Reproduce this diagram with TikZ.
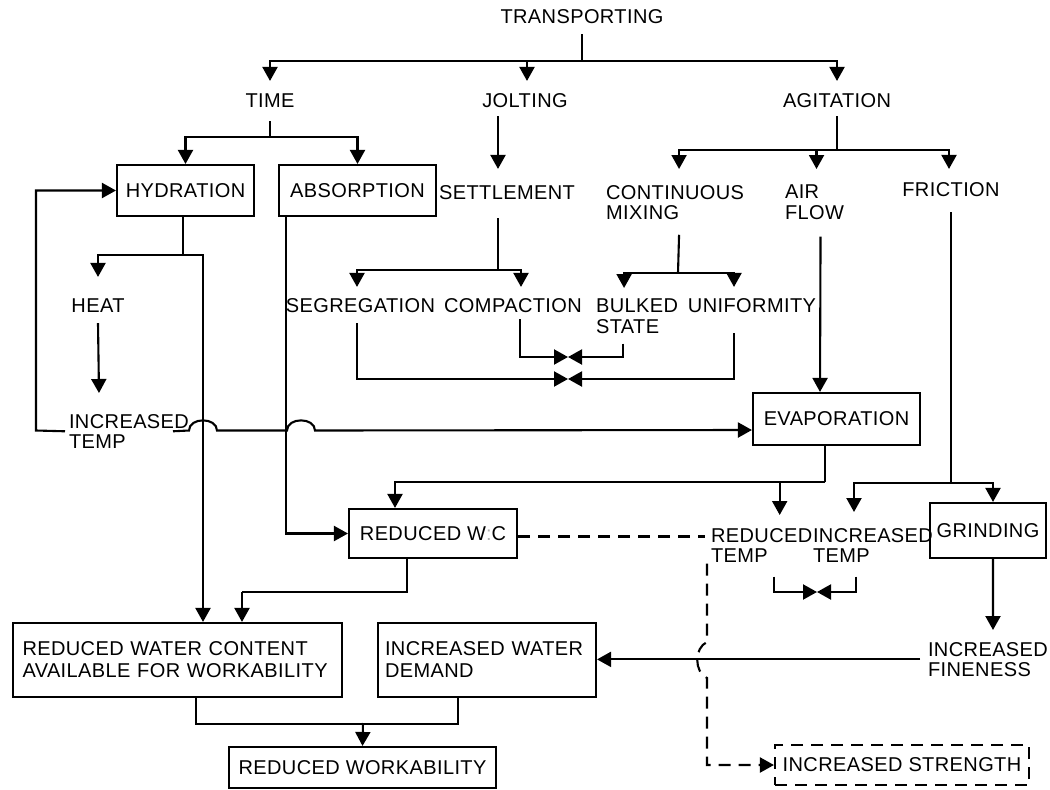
\documentclass[tikz,border=0pt]{standalone}
\usepackage{fontspec}
\setmainfont[LetterSpace=2]{Liberation Sans}
\usetikzlibrary{arrows.meta}
\begin{document}
\begin{tikzpicture}[x=1pt,y=-1pt,
  line width=2.1pt,
  lbl/.style={font=\fontsize{20}{20.5}\selectfont, inner sep=0pt, text height=14pt, text depth=0pt},
  mlbl/.style={font=\fontsize{20}{20.5}\selectfont, inner sep=0pt, align=left, anchor=north west},
  box/.style={draw, font=\fontsize{20}{22}\selectfont, inner sep=0pt, line width=2.1pt},
  arr/.style={-{Triangle[length=14pt 0,width=15pt 0]}},
  dsh/.style={dash pattern=on 12pt off 8pt},
]
\fill[white] (0,0) rectangle (1050,790);
\useasboundingbox (0,0) rectangle (1050,790);

% ---- labels
\node[lbl] (trans) at (582,16) {TRANSPORTING};
\node[lbl] (time) at (270,100) {TIME};
\node[lbl] (jolt) at (525,100) {JOLTING};
\node[lbl] (agit) at (837,100) {AGITATION};
\node[lbl] (settle) at (507,192) {SETTLEMENT};
\node[mlbl] (contmix) at (605,184) {CONTINUOUS\\MIXING};
\node[mlbl] (air) at (784,184) {AIR\\FLOW};
\node[lbl] (fric) at (951,189) {FRICTION};
\node[lbl] (heat) at (98,305) {HEAT};
\node[lbl] (seg) at (360.5,305) {SEGREGATION};
\node[lbl] (comp) at (513,305) {COMPACTION};
\node[mlbl] (bulk) at (595,298) {BULKED\\STATE};
\node[lbl] (unif) at (752,305) {UNIFORMITY};
\node[mlbl] (inctemp1) at (68,413) {INCREASED\\TEMP};
\node[mlbl] (redtemp) at (710,527) {REDUCED\\TEMP};
\node[mlbl] (inctemp2) at (812,527) {INCREASED\\TEMP};
\node[mlbl] (incfine) at (927,641) {INCREASED\\FINENESS};

% ---- boxes
\node[box, minimum width=137pt, minimum height=51pt] (hyd) at (185.5,190.5) {HYDRATION};
\node[box, minimum width=157pt, minimum height=51pt] (abs) at (357.5,190.5) {ABSORPTION};
\node[box, minimum width=167pt, minimum height=52pt] (evap) at (836.5,419) {EVAPORATION};
\node[box, minimum width=168pt, minimum height=49pt] (redwc) at (433,533.5) {REDUCED W{\color{black!30}:}C};
\node[box, minimum width=116pt, minimum height=55pt] (grind) at (988,530.5) {GRINDING};
\node[box, minimum width=329pt, minimum height=74pt, text width=310pt, align=left] (rwc) at (177.5,660) {REDUCED WATER CONTENT\\AVAILABLE FOR WORKABILITY};
\node[box, minimum width=218pt, minimum height=74pt, text width=204pt, align=left] (iwd) at (487,660) {INCREASED WATER\\DEMAND};
\node[box, minimum width=267pt, minimum height=41pt] (rw) at (362.5,767.5) {REDUCED WORKABILITY};
\node[box, dsh, minimum width=254pt, minimum height=40pt] (istr) at (902,765) {INCREASED STRENGTH};

% ---- junctions
\coordinate (jt) at (582,61);
\coordinate (jtime) at (270,137);
\coordinate (ja) at (837,150);
\coordinate (js) at (498,270);
\coordinate (jc) at (678,273);
\coordinate (bt1) at (568,357);
\coordinate (bt2) at (568,379);
\coordinate (jh) at (183,255);
\coordinate (fb) at (36,430.5);
\coordinate (h1a) at (189,430.5);
\coordinate (h1b) at (217,430.5);
\coordinate (h2a) at (287,430.5);
\coordinate (h2b) at (315,430.5);
\coordinate (jf) at (951,483);
\coordinate (je) at (825,482);
\coordinate (bt3) at (817,592);
\coordinate (dA) at (707,642);
\coordinate (dc1) at (694,648);
\coordinate (dc2) at (694,672);
\coordinate (dB) at (707,678);
\coordinate (jw) at (242,592);
\coordinate (jb) at (363,723);

% ---- connectors
\draw ([yshift=-10pt]trans.south) -- (jt);
\draw[arr] (jt) -| ([yshift=11pt]time.north);
\draw[arr] (jt) -| ([xshift=2pt,yshift=11pt]jolt.north);
\draw[arr] (jt) -| ([yshift=11pt]agit.north);

\draw ([yshift=-13pt]time.south) -- (jtime);
\draw[arr] (jtime) -| (hyd.north);
\draw[arr] (jtime) -| (abs.north);

\draw[arr] ([xshift=-27pt,yshift=-8pt]jolt.south) -- ([xshift=-9pt,yshift=15pt]settle.north);

\draw ([yshift=-8pt]agit.south) -- (ja);
\draw[arr] (ja) -| ([xshift=4pt,yshift=15pt]contmix.north);
\draw[arr] (ja) -| ([xshift=2pt,yshift=15pt]air.north);
\draw[arr] (ja) -| ([xshift=-2pt,yshift=12pt]fric.north);

\draw ([xshift=-9pt,yshift=-18pt]settle.south) -- (js);
\draw[arr] (js) -| ([xshift=-3.5pt,yshift=10pt]seg.north);
\draw[arr] (js) -| ([xshift=8pt,yshift=10pt]comp.north);

\draw ([xshift=4pt,yshift=-14pt]contmix.south) -- (jc);
\draw[arr] (jc) -| ([xshift=-13pt,yshift=10pt]bulk.north);
\draw[arr] (jc) -| ([xshift=-18pt,yshift=10pt]unif.north);

\draw[arr] ([xshift=7pt,yshift=-6pt]comp.south) |- (bt1);
\draw[arr] ([xshift=-14pt,yshift=-9pt]bulk.south) |- (bt1);
\draw[arr] ([xshift=-3.5pt,yshift=-10pt]seg.south) |- (bt2);
\draw[arr] ([xshift=-18pt,yshift=-20pt]unif.south) |- (bt2);

\draw ([xshift=-2.5pt]hyd.south) -- (jh);
\draw[arr] (jh) -| ([yshift=20pt]heat.north);
\draw[arr] (jh) -| ([xshift=25.5pt]rwc.north);
\draw[arr] ([yshift=-10pt]heat.south) -- ([xshift=-30pt,yshift=20pt]inctemp1.north);

\draw[arr] ([xshift=-3pt]inctemp1.west) -- (fb) |- (hyd.west);
\draw[arr] ([xshift=-17pt]inctemp1.east) -- (h1a) .. controls (189,417) and (217,417) .. (h1b)
   -- (h2a) .. controls (287,417) and (315,417) .. (h2b) -- ([yshift=-11pt]evap.west);

\draw[arr] ([xshift=6pt,yshift=-16pt]air.south) -- ([xshift=-16.5pt]evap.north);

\draw ([yshift=-15pt]fric.south) -- (jf);
\draw[arr] (jf) -| ([xshift=5pt]grind.north);
\draw[arr] (jf) -| ([xshift=-19pt,yshift=15pt]inctemp2.north);

\draw ([xshift=-11.5pt]evap.south) -- (je);
\draw[arr] (je) -| ([xshift=18pt,yshift=12pt]redtemp.north);
\draw[arr] (je) -| ([xshift=-38pt]redwc.north);

\draw[arr] ([xshift=-71.5pt]abs.south) |- (redwc.west);

\draw[dsh, shorten >=5pt] ([yshift=-3pt]redwc.east) -- ([yshift=-3pt]redwc.east -| redtemp.west);

\draw[arr] ([xshift=12pt,yshift=-13pt]redtemp.south) |- (bt3);
\draw[arr] ([xshift=-17pt,yshift=-13pt]inctemp2.south) |- (bt3);

\draw[arr] ([xshift=5pt]grind.south) -- ([xshift=5pt,yshift=11pt]incfine.north);
\draw[arr] ([xshift=-7pt]incfine.west) -- (incfine.west -| iwd.east);

\draw[arr, dsh] ([xshift=-3pt]redtemp.south west) -- (dA) .. controls (dc1) and (dc2) .. (dB) |- (istr.west);

\draw ([xshift=-26pt]redwc.south) |- (jw);
\draw[arr] (jw) -- ([xshift=64.5pt]rwc.north);

\draw ([xshift=18.5pt]rwc.south) -- ++(0,26) -| ([xshift=-29pt]iwd.south);
\draw[arr] (jb) -- (rw.north);
\end{tikzpicture}
\end{document}
